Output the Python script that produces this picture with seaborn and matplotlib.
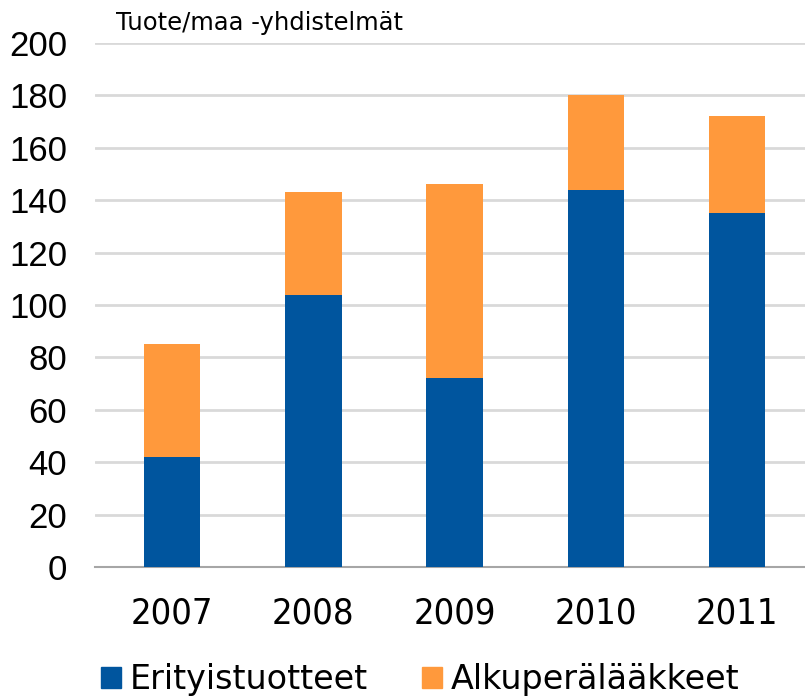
import matplotlib
matplotlib.use("Agg")
import matplotlib.pyplot as plt
import matplotlib.patches as mpatches
import seaborn as sns
import pandas as pd
import numpy as np

years = ["2007", "2008", "2009", "2010", "2011"]
erityistuotteet = [42, 104, 72, 144, 135]
alkuperalaakkeet = [43, 39, 74, 36, 37]

BLUE = "#00559E"
ORANGE = "#FF993C"

sns.set_theme(style="white")
plt.rcParams['font.family'] = ['Liberation Sans', 'DejaVu Sans']

df = pd.DataFrame({"year": years,
                   "blue": erityistuotteet,
                   "orange": alkuperalaakkeet})
df["total"] = df["blue"] + df["orange"]

fig = plt.figure(figsize=(8.05, 6.98), dpi=100)
ax = fig.add_axes([0.118, 0.1877, 0.882, 0.7507])

# stacked: total in orange, blue drawn over it
sns.barplot(data=df, x="year", y="total", color=ORANGE, width=0.4,
            saturation=1, linewidth=0, ax=ax, zorder=3)
sns.barplot(data=df, x="year", y="blue", color=BLUE, width=0.4,
            saturation=1, linewidth=0, ax=ax, zorder=4)

ax.set_ylim(0, 200)
ax.set_xlim(-0.545, 4.48)
ax.set_yticks(np.arange(0, 201, 20))
ax.yaxis.grid(True, color="#D9D9D9", linewidth=2, zorder=0)
ax.set_axisbelow(True)
ax.set_xlabel("")
ax.set_ylabel("")

for s in ["top", "right", "left"]:
    ax.spines[s].set_visible(False)
ax.spines["bottom"].set_color("#A6A6A6")
ax.spines["bottom"].set_linewidth(1.5)

ax.tick_params(axis="y", length=0, pad=20, labelsize=25, labelcolor="black")
ax.tick_params(axis="x", length=0, pad=21, labelsize=26, labelcolor="black")
for lab in ax.get_xticklabels():
    lab.set_fontfamily(['DejaVu Sans'])
    lab.set_fontstretch("condensed")

ax.text(0.03, 1.015, "Tuote/maa -yhdistelmät", transform=ax.transAxes,
        fontsize=17.5, family="DejaVu Sans", color="black",
        ha="left", va="bottom")

handles = [mpatches.Patch(color=BLUE, label="Erityistuotteet"),
           mpatches.Patch(color=ORANGE, label="Alkuperälääkkeet")]
leg = fig.legend(handles=handles, loc="center",
                 bbox_to_anchor=(0.522, 0.026),
                 ncol=2, frameon=False,
                 prop={"family": "DejaVu Sans", "size": 24},
                 handlelength=0.6, handleheight=0.6, handletextpad=0.27,
                 columnspacing=1.6, borderpad=0)
for t in leg.get_texts():
    t.set_color("black")

fig.savefig("out.png", dpi=100)
